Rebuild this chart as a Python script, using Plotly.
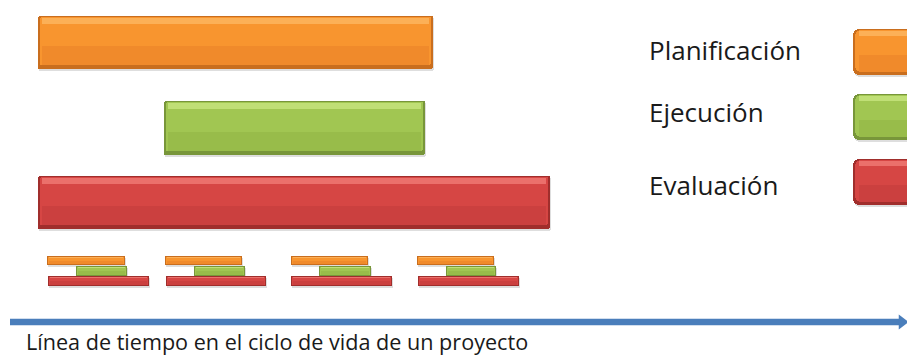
import plotly.graph_objects as go

# ---------------- data ----------------
phases = ["Planificación", "Ejecución", "Evaluación"]
phase_start = [38, 164, 38]
phase_end = [433, 425, 550]

cycle_plan_start = [47, 165, 291, 417]
cycle_plan_end = [125, 242, 368, 494]
cycle_exec_start = [76, 194, 319, 446]
cycle_exec_end = [127, 245, 371, 496]
cycle_eval_start = [48, 166, 291, 418]
cycle_eval_end = [149, 266, 392, 519]

timeline_start = 10
timeline_end = 906
timeline_label = "Línea de tiempo en el ciclo de vida de un proyecto"

legend_start = [853, 853, 853]
legend_end = [960, 960, 960]

# ---------------- styles ----------------
palette = {
    "Planificación": dict(main="#F8952F", light="#FDB662", lower="#EF882A", dark="#C96E1E"),
    "Ejecución": dict(main="#A1C652", light="#C8E57F", lower="#96BA49", dark="#78963A"),
    "Evaluación": dict(main="#D64644", light="#F07A76", lower="#C9403E", dark="#A02E2C"),
}
FONT = "Open Sans"

fig = go.Figure()


def bar(base, dur, y, h, color, radius=0, opacity=1.0):
    fig.add_trace(go.Bar(orientation="h", base=base, x=dur, y=y, width=h,
                         marker=dict(color=color, cornerradius=radius, opacity=opacity,
                                     line=dict(width=0)),
                         hoverinfo="skip", showlegend=False))


def add_bar(starts, ends, yc, h, col, radius):
    dur = [e - s for s, e in zip(starts, ends)]
    n = len(starts)
    inset = max(1.0, h * 0.045)
    # shadow
    bar([s + 1 for s in starts], dur, [yc + 2] * n, h, "rgba(0,0,0,0.13)", radius)
    # dark edge body
    bar(starts, dur, [yc] * n, h, col["dark"], radius)
    # main fill
    inner_d = [d - 2 * inset for d in dur]
    inner_s = [s + inset for s in starts]
    bar(inner_s, inner_d, [yc - inset * 0.5] * n, h - 2 * inset, col["main"], radius)
    # lower darker part (gradient feel)
    lh = (h - 2 * inset) * 0.4
    bar([s + radius * 0.6 for s in inner_s], [d - radius * 1.2 for d in inner_d],
        [yc + h / 2 - 1.5 * inset - lh / 2] * n, lh, col["lower"], 0, 0.85)
    # top highlight
    hh = max(1.0, h * 0.1)
    bar([s + radius * 0.6 for s in inner_s], [d - radius * 1.2 for d in inner_d],
        [yc - h / 2 + inset + hh / 2] * n, hh, col["light"], 0, 0.8)


# large phase bars
big_y = [42.5, 128, 202.5]
big_h = [53, 54, 53]
for i, p in enumerate(phases):
    add_bar([phase_start[i]], [phase_end[i]], big_y[i], big_h[i], palette[p], 2)

# small repeated cycles
add_bar(cycle_plan_start, cycle_plan_end, 260.5, 9, palette["Planificación"], 1)
add_bar(cycle_exec_start, cycle_exec_end, 271, 10, palette["Ejecución"], 1)
add_bar(cycle_eval_start, cycle_eval_end, 281, 10, palette["Evaluación"], 1)

# legend boxes (clipped on the right edge)
leg_y = [52, 117, 182]
for i, p in enumerate(phases):
    add_bar([legend_start[i]], [legend_end[i]], leg_y[i], 46, palette[p], 6)

# legend labels
for i, p in enumerate(phases):
    fig.add_annotation(x=647, y=[50, 112, 185][i], text=p, showarrow=False,
                       xanchor="left", yanchor="middle",
                       font=dict(family=FONT, size=26, color="#1a1a1a"))

# timeline arrow
fig.add_trace(go.Scatter(x=[timeline_start, timeline_end - 6], y=[322, 322], mode="lines",
                         line=dict(color="#4A7EBB", width=6.5), hoverinfo="skip", showlegend=False))
fig.add_trace(go.Scatter(x=[timeline_end - 4], y=[322], mode="markers",
                         marker=dict(symbol="triangle-right", size=13, color="#4A7EBB"),
                         hoverinfo="skip", showlegend=False))

fig.add_annotation(x=24, y=341, text=timeline_label, showarrow=False,
                   xanchor="left", yanchor="middle",
                   font=dict(family=FONT, size=21.6, color="#1a1a1a"))

fig.update_layout(
    width=907, height=356,
    margin=dict(l=0, r=0, t=0, b=0),
    paper_bgcolor="white", plot_bgcolor="white",
    barmode="overlay", bargap=0,
    xaxis=dict(range=[0, 907], visible=False, fixedrange=True),
    yaxis=dict(range=[356, 0], visible=False, fixedrange=True),
    showlegend=False,
)

fig.write_html("out.html", config={"displayModeBar": False},
               post_script="document.body.style.margin='0px';document.body.style.overflow='hidden';")
